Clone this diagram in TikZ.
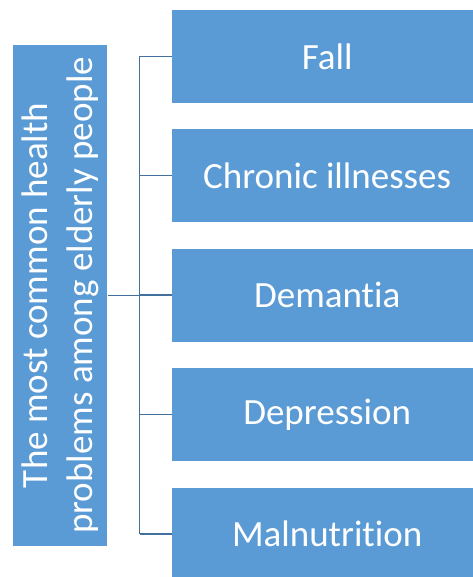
\documentclass[tikz,border=0pt]{standalone}
\usepackage{fontspec}
\setmainfont{Carlito}[Ligatures={NoCommon}]
\definecolor{boxblue}{HTML}{5B9BD5}
\definecolor{lineblue}{HTML}{41719C}
\tikzset{
  item/.style={fill=boxblue, text=white, minimum width=310pt, minimum height=93pt, inner sep=0pt, anchor=west, font=\fontsize{37}{45}\selectfont},
  title/.style={fill=boxblue, text=white, rotate=90, minimum width=500.5pt, minimum height=94.3pt, inner sep=0pt, align=center, font=\fontsize{37}{45}\selectfont},
  conn/.style={draw=lineblue, line width=1.6pt}
}
\begin{document}
\begin{tikzpicture}[x=1pt,y=-1pt]
\useasboundingbox (0,0) rectangle (472,577);
\node[title] (L) at (60.15,295.35) {The most common health\\problems among elderly people};
\node[item] (b1) at (172,56.5) {Fall};
\node[item] (b2) at (172,175.7) {Chronic illnesses};
\node[item] (b3) at (172,295.2) {Demantia};
\node[item] (b4) at (172,414.6) {Depression};
\node[item] (b5) at (172,534) {Malnutrition};
\path (L.south) ++(32,0) coordinate (j);
\draw[conn] (L.south) -- (j);
\draw[conn] (b1.west -| j) -- (b5.west -| j);
\foreach \i in {1,...,5}{\draw[conn] (b\i.west -| j) -- (b\i.west);}
\end{tikzpicture}
\end{document}
